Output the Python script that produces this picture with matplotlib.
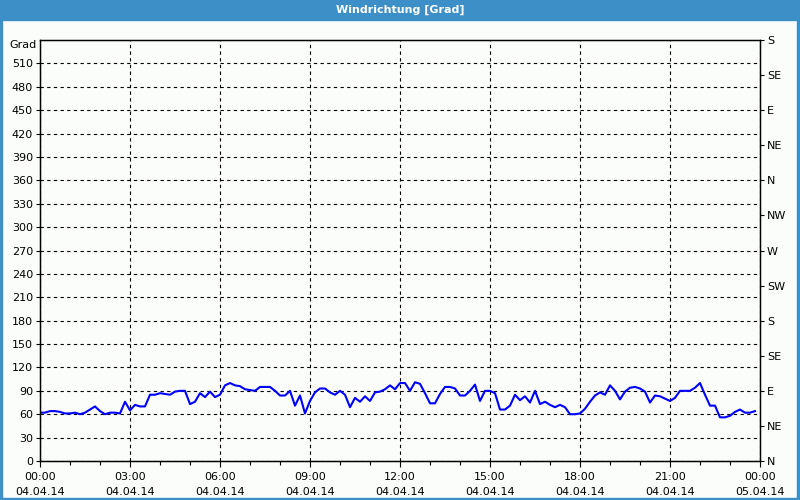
import numpy as np
import matplotlib
matplotlib.use("Agg")
import matplotlib.pyplot as plt
from matplotlib.patches import Rectangle

# wind direction, 10-minute values from 00:00 to 23:50
direction = [
    62, 62, 64, 64, 63, 61, 61, 62, 60, 62, 66, 70, 64, 60, 62, 62, 61, 76, 65, 72, 70, 70, 85, 85,
    87, 86, 85, 89, 90, 90, 73, 76, 87, 82, 89, 82, 85, 97, 100, 97, 96, 92, 91, 90, 95, 95, 95, 90,
    84, 84, 90, 71, 84, 61, 77, 88, 93, 93, 88, 85, 90, 85, 69, 81, 76, 83, 77, 88, 89, 92, 97, 92,
    100, 100, 90, 101, 99, 87, 74, 74, 86, 95, 95, 93, 84, 84, 90, 98, 77, 90, 90, 87, 66, 66, 71, 85,
    78, 83, 75, 90, 73, 76, 72, 69, 72, 69, 60, 60, 61, 67, 76, 84, 88, 85, 97, 90, 79, 89, 94, 95,
    93, 89, 75, 84, 83, 80, 77, 81, 90, 90, 90, 94, 100, 85, 71, 71, 56, 56, 58, 63, 66, 62, 62, 64,
]
hours = np.arange(len(direction)) / 6.0

x_ticks = [0, 3, 6, 9, 12, 15, 18, 21, 24]
x_labels = ["00:00\n04.04.14", "03:00\n04.04.14", "06:00\n04.04.14", "09:00\n04.04.14",
            "12:00\n04.04.14", "15:00\n04.04.14", "18:00\n04.04.14", "21:00\n04.04.14",
            "00:00\n05.04.14"]
y_ticks = list(range(0, 540, 30))
compass = ["N", "NE", "E", "SE", "S", "SW", "W", "NW", "N", "NE", "E", "SE", "S"]
compass_ticks = list(range(0, 541, 45))

FRAME = "#3d8fc7"
BG = "#fbfdfb"

fig = plt.figure(figsize=(8, 5), dpi=100, facecolor=BG)
ax = fig.add_axes([0.05, 0.078, 0.9, 0.842])
ax.set_facecolor(BG)

ax.plot(hours, direction, color="#0000ff", linewidth=1.5, zorder=3)

ax.set_xlim(0, 24)
ax.set_ylim(0, 540)
ax.set_xticks(x_ticks)
ax.set_xticklabels(x_labels, linespacing=1.55)
ax.set_xticks(range(25), minor=True)
ax.set_yticks(y_ticks)
ax.set_yticklabels([str(v) for v in y_ticks])
ax.tick_params(axis="both", labelsize=8, direction="out", length=3, width=0.8, pad=2)
ax.tick_params(axis="x", which="major", length=4, pad=4)
ax.tick_params(axis="x", which="minor", length=3, width=0.8)

ax.grid(True, which="major", color="black", linestyle=(0, (3, 3)), linewidth=0.8)
for s in ax.spines.values():
    s.set_color("black")
    s.set_linewidth(1.0)

ax.text(-0.004, 533, "Grad", transform=ax.get_yaxis_transform(), ha="right", va="center", fontsize=8)

ax2 = ax.twinx()
ax2.set_ylim(0, 540)
ax2.set_yticks(compass_ticks)
ax2.set_yticklabels(compass)
ax2.tick_params(axis="y", labelsize=8, direction="out", length=3, width=0.8, pad=2)

# window frame with title bar
fig.patches.append(Rectangle((0, 0.96), 1, 0.04, transform=fig.transFigure, color=FRAME, zorder=0))
fig.patches.append(Rectangle((0, 0), 0.0025, 1, transform=fig.transFigure, color=FRAME, zorder=0))
fig.patches.append(Rectangle((0.9962, 0), 0.0038, 1, transform=fig.transFigure, color=FRAME, zorder=0))
fig.patches.append(Rectangle((0, 0), 1, 0.005, transform=fig.transFigure, color=FRAME, zorder=0))
fig.text(0.5, 0.98, "Windrichtung [Grad]", color="white", fontsize=8, fontweight="bold",
         ha="center", va="center")

fig.savefig("out.png", dpi=100, facecolor=BG)
